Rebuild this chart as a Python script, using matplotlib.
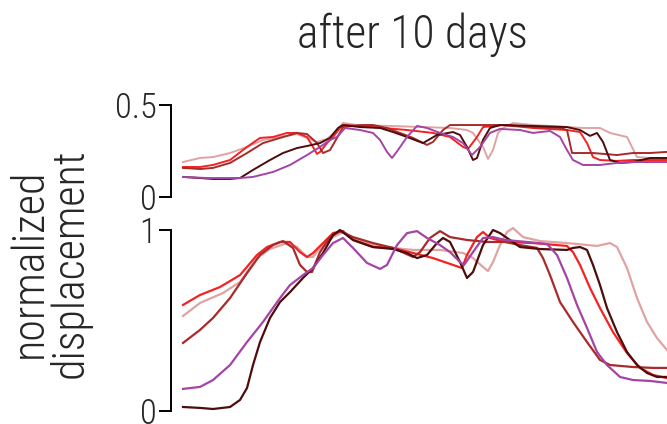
import matplotlib
matplotlib.use('Agg')
from matplotlib import pyplot as plt
from matplotlib import font_manager

# position along the trace (a.u.) and normalized displacement
# --- upper panel ---
pink_top_x = [0, 17, 30, 47, 64, 80, 97, 114, 124, 134, 144, 154, 160, 174, 207, 240, 267, 284, 290, 300,
              305, 310, 315, 320, 330, 350, 367, 400, 417, 427, 444, 447, 454, 467, 484]
pink_top_y = [.190, .212, .217, .239, .272, .310, .326, .342, .321, .299, .315, .364, .402, .391, .386, .380, .375, .364, .348, .272,
              .207, .255, .348, .375, .402, .391, .386, .375, .375, .348, .326, .293, .217, .212, .212]

red_top_x = [0, 17, 30, 47, 64, 77, 90, 104, 114, 124, 130, 134, 137, 144, 150, 157, 162, 190, 224, 250,
             267, 280, 285, 294, 300, 320, 350, 384, 397, 404, 410, 417, 434, 450, 467, 484]
red_top_y = [.163, .163, .174, .201, .272, .321, .326, .348, .348, .326, .272, .234, .245, .293, .326, .375, .391, .380, .364, .348,
             .326, .272, .261, .326, .380, .391, .375, .364, .353, .293, .217, .201, .196, .201, .201, .201]

brown_top_x = [0, 17, 30, 47, 64, 80, 97, 114, 124, 134, 140, 147, 154, 160, 177, 190, 204, 217, 230, 244,
               250, 260, 267, 284, 324, 350, 377, 384, 389, 394, 410, 434, 450, 467, 484]
brown_top_y = [.158, .152, .158, .185, .239, .293, .321, .348, .342, .293, .239, .255, .321, .380, .391, .391, .375, .348, .321, .283,
               .299, .364, .391, .391, .391, .380, .375, .364, .239, .239, .239, .228, .239, .239, .245]

dark_top_x = [0, 17, 30, 47, 57, 70, 87, 100, 114, 124, 137, 147, 155, 160, 177, 197, 210, 224, 240, 254,
              270, 277, 284, 290, 294, 300, 307, 317, 350, 384, 397, 407, 414, 420, 427, 437, 450, 467, 484]
dark_top_y = [.109, .103, .098, .098, .103, .147, .201, .239, .266, .277, .293, .321, .375, .391, .380, .375, .353, .326, .293, .337,
              .353, .337, .272, .201, .212, .310, .375, .391, .386, .380, .364, .332, .348, .299, .201, .185, .190, .212, .212]

purple_top_x = [0, 24, 57, 70, 90, 107, 124, 137, 147, 154, 162, 177, 190, 197, 204, 209, 215, 224, 234, 244,
                257, 270, 280, 289, 297, 307, 317, 337, 350, 367, 377, 384, 390, 400, 417, 434, 450, 484]
purple_top_y = [.109, .103, .103, .109, .136, .174, .228, .272, .310, .326, .375, .364, .348, .310, .245, .212, .255, .326, .386, .375,
                .348, .326, .293, .228, .272, .348, .370, .364, .348, .359, .326, .255, .201, .174, .174, .185, .190, .190]

# --- lower panel ---
pink_bot_x = [0, 17, 40, 57, 74, 87, 104, 114, 124, 130, 137, 150, 160, 170, 190, 210, 230, 257, 280, 290,
              300, 305, 310, 317, 324, 330, 340, 357, 384, 414, 427, 434, 444, 454, 464, 474, 484]
pink_bot_y = [.525, .597, .652, .713, .845, .895, .928, .906, .851, .851, .901, .961, .989, .956, .917, .901, .890, .890, .873, .845,
              .796, .773, .823, .917, .989, 1.011, .961, .939, .928, .912, .928, .906, .790, .624, .492, .403, .337]

red_bot_x = [0, 17, 37, 57, 74, 84, 97, 107, 117, 124, 130, 140, 150, 160, 170, 190, 210, 230, 250, 270,
             279, 284, 294, 300, 307, 322, 350, 384, 390, 397, 407, 417, 430, 444, 457, 470, 484]
red_bot_y = [.586, .641, .685, .751, .862, .906, .934, .934, .878, .851, .873, .928, .983, .994, .945, .906, .901, .873, .845, .807,
             .790, .862, .961, .989, .956, .934, .928, .912, .878, .807, .680, .569, .436, .320, .238, .199, .182]

brown_bot_x = [0, 17, 30, 47, 64, 77, 90, 100, 110, 117, 124, 129, 137, 147, 157, 170, 190, 210, 230, 237,
               247, 257, 267, 284, 304, 322, 337, 354, 360, 367, 377, 390, 404, 417, 427, 450, 470, 484]
brown_bot_y = [.376, .448, .514, .624, .762, .862, .917, .939, .901, .807, .768, .768, .878, .961, .994, .961, .928, .901, .851, .878,
               .956, .994, .961, .945, .934, .934, .917, .901, .845, .751, .602, .492, .381, .282, .254, .243, .238, .238]

dark_bot_x = [0, 17, 30, 47, 57, 64, 70, 77, 87, 97, 107, 120, 130, 140, 150, 157, 170, 190, 210, 224,
              234, 244, 254, 260, 267, 277, 284, 290, 300, 310, 317, 337, 357, 384, 390, 397, 404, 410, 417, 424,
              434, 444, 454, 464, 474, 484]
dark_bot_y = [.022, .017, .011, .022, .061, .127, .254, .381, .514, .602, .657, .735, .790, .873, .972, 1.0, .945, .906, .895, .873,
              .845, .862, .928, .956, .934, .823, .735, .768, .917, 1.0, .983, .906, .895, .890, .901, .906, .890, .807, .696, .569,
              .436, .326, .254, .210, .188, .188]

purple_bot_x = [0, 17, 30, 47, 64, 80, 97, 107, 120, 130, 140, 150, 160, 170, 184, 197, 204, 214, 224, 234,
                244, 257, 267, 277, 281, 290, 300, 310, 322, 344, 364, 374, 384, 394, 404, 414, 424, 437, 450, 467, 484]
purple_bot_y = [.122, .133, .171, .254, .381, .492, .624, .696, .751, .790, .862, .928, .956, .901, .818, .785, .807, .917, .983, .994,
                .956, .917, .878, .823, .807, .878, .956, .961, .945, .934, .923, .862, .735, .586, .459, .326, .254, .188, .171, .166, .155]

colors = ['#e0a3a3', '#f42222', '#a82a2a', '#4e0c0c', '#a444a4']

top_series = [(pink_top_x, pink_top_y), (red_top_x, red_top_y), (brown_top_x, brown_top_y),
              (dark_top_x, dark_top_y), (purple_top_x, purple_top_y)]
bot_series = [(pink_bot_x, pink_bot_y), (red_bot_x, red_bot_y), (brown_bot_x, brown_bot_y),
              (dark_bot_x, dark_bot_y), (purple_bot_x, purple_bot_y)]


def pickFont():
   names = set(f.name for f in font_manager.fontManager.ttflist)
   for cand in ['Roboto Condensed', 'Liberation Sans Narrow', 'Open Sans Condensed', 'Lato', 'Roboto', 'DejaVu Sans']:
      if cand in names:
         weights = [f.weight for f in font_manager.fontManager.ttflist if f.name == cand]
         light = any(isinstance(w, int) and w <= 300 for w in weights) or 'light' in weights
         return cand, ('light' if light else 'normal')
   return 'DejaVu Sans', 'normal'


family, weight = pickFont()
plt.rcParams['font.family'] = [family, 'DejaVu Sans']
plt.rcParams['font.weight'] = weight
textColor = '#262626'

fig = plt.figure(figsize=(6.67, 4.24), dpi=100)
axTop = fig.add_axes([0.2564, 0.5354, 0.7436, 0.2170])
axBot = fig.add_axes([0.2564, 0.0179, 0.7436, 0.4524])


def styleAxis(ax, ylim, bounds, ticks, labels):
   ax.set_xlim(-12, 484)
   ax.set_ylim(*ylim)
   for s in ['top', 'right', 'bottom']:
      ax.spines[s].set_visible(False)
   ax.spines['left'].set_bounds(*bounds)
   ax.spines['left'].set_linewidth(1.4)
   ax.set_xticks([])
   ax.set_yticks(ticks)
   ax.set_yticklabels(labels)
   ax.tick_params(axis='y', direction='out', length=8.5, width=1.4, pad=2, labelcolor=textColor)
   ax.patch.set_visible(False)


for (x, y), c in zip(top_series, colors):
   axTop.plot(x, y, color=c, lw=1.4, solid_joinstyle='round')
for (x, y), c in zip(bot_series, colors):
   axBot.plot(x, y, color=c, lw=1.6, solid_joinstyle='round')

styleAxis(axTop, (0, 0.5), (0, 0.5), [0, 0.5], ['0', '0.5'])
styleAxis(axBot, (-0.03, 1.03), (0, 1), [0, 1], ['0', '1'])

title = fig.text(0.619, 0.887, 'after 10 days', ha='center', va='baseline', fontsize=28, color=textColor)
ylab = fig.text(0.075, 0.38, 'normalized\ndisplacement', rotation=90, ha='center', va='center',
                multialignment='center', fontsize=28, color=textColor, linespacing=0.95)

# scale the text so the widths match the reference
fig.canvas.draw()
w = title.get_window_extent().width
title.set_fontsize(28 * 231 / w)
h = ylab.get_window_extent().height
ylab.set_fontsize(28 * 230 / h)
axTop.tick_params(labelsize=20)
fig.canvas.draw()
lw = axTop.get_yticklabels()[1].get_window_extent().width
size = 20 * 42 / lw
axTop.tick_params(labelsize=size)
axBot.tick_params(labelsize=size)

fig.savefig('out.png', dpi=100)
